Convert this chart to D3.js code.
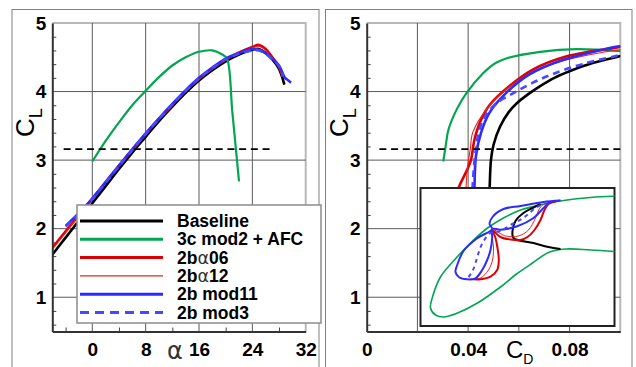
<!DOCTYPE html>
<html>
<head>
<meta charset="utf-8">
<script src="https://cdn.jsdelivr.net/npm/d3@7/dist/d3.min.js"></script>
<style>
  body { margin: 0; background: #fff; }
  svg { display: block; font-family: "Liberation Sans", Arial, sans-serif; }
</style>
</head>
<body>
<div id="chart"></div>
<script>
// ---- data ----
const seriesNames = ["Baseline", "3c mod2 + AFC", "2b\u03b106", "2b\u03b112", "2b mod11", "2b mod3"];

// CL vs alpha
const alphaBase = [-6, -4, -2, 0, 2, 4, 6, 8, 10, 12, 14, 16, 18, 20, 22, 24, 25, 26, 27, 28, 28.8];
const clBase    = [1.62, 1.87, 2.12, 2.37, 2.62, 2.87, 3.11, 3.34, 3.57, 3.78, 3.98, 4.16, 4.31, 4.44, 4.54, 4.61, 4.62, 4.56, 4.47, 4.33, 4.10];
const alphaAfc  = [0, 2, 4, 6, 8, 10, 12, 14, 16, 18, 19.5, 20.2, 21, 22];
const clAfc     = [2.98, 3.28, 3.55, 3.80, 4.01, 4.21, 4.38, 4.50, 4.58, 4.60, 4.54, 4.48, 3.70, 2.69];
const alphaA06  = [-6, -4, -2, 0, 2, 4, 6, 8, 10, 12, 14, 16, 18, 20, 22, 24, 25, 26, 27, 28, 28.5];
const clA06     = [1.72, 1.96, 2.20, 2.44, 2.68, 2.92, 3.15, 3.38, 3.60, 3.81, 4.01, 4.19, 4.34, 4.47, 4.57, 4.65, 4.68, 4.62, 4.50, 4.36, 4.24];
const alphaA12  = [-6, -4, -2, 0, 2, 4, 6, 8, 10, 12, 14, 16, 18, 20, 22, 24, 25, 26, 27, 28, 28.5];
const clA12     = [1.70, 1.94, 2.19, 2.43, 2.67, 2.91, 3.14, 3.37, 3.59, 3.80, 4.00, 4.18, 4.33, 4.46, 4.56, 4.64, 4.66, 4.60, 4.49, 4.35, 4.22];
const alphaM11  = [-4, -2, 0, 2, 4, 6, 8, 10, 12, 14, 16, 18, 20, 22, 24, 25, 26, 27, 28, 28.9, 29.3, 29.8];
const clM11     = [2.04, 2.23, 2.44, 2.68, 2.92, 3.16, 3.39, 3.61, 3.82, 4.02, 4.20, 4.35, 4.48, 4.56, 4.62, 4.61, 4.56, 4.48, 4.38, 4.20, 4.17, 4.13];
const alphaM3   = [-4, -2, 0, 2, 4, 6, 8, 10, 12, 14, 16, 18, 20, 22, 24, 25, 26, 27, 28, 28.6];
const clM3      = [2.03, 2.22, 2.43, 2.67, 2.91, 3.15, 3.38, 3.60, 3.81, 4.01, 4.19, 4.34, 4.47, 4.55, 4.60, 4.60, 4.55, 4.47, 4.37, 4.22];

// CL vs CD
const cdBase  = [0.0482, 0.0485, 0.0490, 0.0500, 0.0526, 0.0560, 0.0592, 0.0640, 0.0684, 0.0740, 0.0802, 0.0894, 0.0992, 0.1005];
const clBaseD = [2.30, 2.62, 3.00, 3.22, 3.49, 3.70, 3.83, 3.97, 4.08, 4.20, 4.30, 4.42, 4.51, 4.52];
const cdAfc   = [0.0302, 0.0312, 0.0322, 0.0355, 0.0394, 0.0460, 0.0510, 0.0556, 0.0684, 0.0828, 0.1005];
const clAfcD  = [2.98, 3.22, 3.44, 3.74, 3.98, 4.27, 4.42, 4.49, 4.58, 4.62, 4.59];
const cdA06   = [0.0345, 0.0365, 0.0395, 0.0411, 0.0425, 0.0450, 0.0484, 0.0563, 0.0655, 0.0786, 0.0983, 0.1005];
const clA06D  = [2.40, 2.62, 2.85, 3.00, 3.30, 3.58, 3.80, 4.08, 4.32, 4.51, 4.64, 4.65];
const cdA12   = [0.0388, 0.0392, 0.0398, 0.0408, 0.0418, 0.0470, 0.0550, 0.0655, 0.0786, 0.0997, 0.1005];
const clA12D  = [2.30, 2.62, 2.91, 3.15, 3.40, 3.73, 4.03, 4.29, 4.46, 4.61, 4.61];
const cdM11   = [0.0423, 0.0425, 0.0431, 0.0451, 0.0484, 0.0550, 0.0642, 0.0773, 0.0997, 0.1005];
const clM11D  = [2.30, 2.62, 3.06, 3.40, 3.69, 3.98, 4.25, 4.46, 4.66, 4.66];
const cdM3    = [0.0415, 0.0420, 0.0430, 0.0445, 0.0470, 0.0515, 0.0580, 0.0650, 0.0730, 0.0850, 0.0996, 0.1005];
const clM3D   = [2.40, 2.76, 3.15, 3.45, 3.66, 3.84, 3.98, 4.12, 4.25, 4.40, 4.53, 4.54];

// horizontal dashed reference
const clRef = 3.16;
const refAlpha = [-4.3, 27];
const refCd = [0.005, 0.1];

// inset (no axes) : u across, v down, box units
const insBaseU = [120, 112, 103, 95, 92, 93, 113, 128, 140];
const insBaseV = [16, 20, 25, 33, 43, 50, 55, 59, 61];
const insAfcU  = [194, 170, 140, 113, 100, 83, 67, 50, 33, 20, 12, 10, 15, 23, 37, 57, 80, 96, 112, 128, 145, 170, 194];
const insAfcV  = [8.3, 9.5, 13, 18.5, 22, 30, 40, 55, 73, 89, 109, 120, 127, 129, 125, 115, 99, 86, 75, 64.5, 61, 62, 63.5];
const insA06U  = [53, 60, 70, 76.7, 78.3, 77, 75, 72, 80, 90, 100, 107, 114, 120, 124, 128, 135];
const insA06V  = [91.3, 91.3, 88.7, 82, 72, 60, 50, 42, 49, 51.5, 52, 49, 42, 32, 22, 16, 13.5];
const insA12U  = [50, 60, 68, 72, 73, 72, 85, 98, 108, 115, 120, 128];
const insA12V  = [91, 90, 82, 72, 60, 42, 48, 48, 42, 30, 19, 14];
const insM11U  = [140, 123, 100, 83, 72, 69, 71.7, 57, 43, 36.7, 35, 38.3, 46.7, 55, 61.7, 66.7, 70, 71.7, 71.7, 80, 96.7, 113, 123, 130, 140];
const insM11V  = [12.5, 14, 18, 21, 29, 36, 41, 50, 63, 77, 84, 89, 91.3, 90.3, 82, 72, 62, 50, 41, 41.7, 38.3, 30, 20, 14, 12.5];
const insM3U   = [48, 51.7, 55, 58, 62, 70, 80, 90, 100, 107, 115, 125];
const insM3V   = [89, 83.7, 75, 65, 55, 45, 43, 37, 31.7, 26.7, 20, 15];

const xTicksAlpha = [0, 8, 16, 24, 32];
const xTicksCd = [0, 0.04, 0.08];
const yTicks = [1, 2, 3, 4, 5];

// ---- styles ----
const styles = [
  { color: "#000000", width: 2.6, dash: null },
  { color: "#00a650", width: 2.2, dash: null },
  { color: "#dd0000", width: 2.6, dash: null },
  { color: "#e8231f", width: 1.1, dash: null },
  { color: "#2b2bff", width: 2.6, dash: null },
  { color: "#4747ff", width: 2.6, dash: "7,5" }
];

const W = 636, H = 367;
const svg = d3.select("#chart").append("svg").attr("width", W).attr("height", H);

const zip = (a, b) => a.map((v, i) => [v, b[i]]);

function drawPanel(p) {
  const x = d3.scaleLinear().domain(p.xDomain).range(p.xRange);
  const y = d3.scaleLinear().domain([0.5, 5]).range([331.5, 23]);
  const g = svg.append("g");

  // outer frame
  g.append("rect").attr("x", p.frame[0]).attr("y", 9.5)
    .attr("width", p.frame[1] - p.frame[0]).attr("height", 380)
    .attr("fill", "none").attr("stroke", "#808080").attr("stroke-width", 1);

  // light border top/right
  g.append("path")
    .attr("d", `M${x(p.xDomain[0])},${y(5)}H${x(p.xDomain[1])}V${y(0.5)}`)
    .attr("fill", "none").attr("stroke", "#b8b8b8").attr("stroke-width", 2);

  // grid
  g.selectAll(".vg").data(p.xGrid).join("line")
    .attr("x1", d => x(d)).attr("x2", d => x(d)).attr("y1", y(5)).attr("y2", y(0.5))
    .attr("stroke", "#5a5a5a").attr("stroke-width", 1);
  g.selectAll(".hg").data([1, 2, 3, 4]).join("line")
    .attr("x1", x(p.xDomain[0])).attr("x2", x(p.xDomain[1])).attr("y1", d => y(d)).attr("y2", d => y(d))
    .attr("stroke", "#5a5a5a").attr("stroke-width", 1);

  // curves
  const clipId = "clip" + p.id;
  svg.append("clipPath").attr("id", clipId).append("rect")
    .attr("x", x(p.xDomain[0])).attr("y", y(5))
    .attr("width", x(p.xDomain[1]) - x(p.xDomain[0])).attr("height", y(0.5) - y(5));
  const line = d3.line().x(d => x(d[0])).y(d => y(d[1])).curve(d3.curveCatmullRom.alpha(0.5));
  const cg = g.append("g").attr("clip-path", `url(#${clipId})`);
  p.series.forEach((s, i) => {
    cg.append("path").attr("d", line(s))
      .attr("fill", "none").attr("stroke", styles[i].color)
      .attr("stroke-width", styles[i].width)
      .attr("stroke-dasharray", styles[i].dash)
      .attr("stroke-linejoin", "round");
  });

  // dashed CL reference
  g.append("line")
    .attr("x1", x(p.ref[0])).attr("x2", x(p.ref[1]))
    .attr("y1", y(clRef)).attr("y2", y(clRef))
    .attr("stroke", "#000").attr("stroke-width", 1.6).attr("stroke-dasharray", "7,4.7");

  // axes
  const yMinor = d3.range(6, 50, 2).map(d => d / 10).filter(d => d % 1 !== 0);
  g.append("g").attr("transform", `translate(${x(p.xDomain[0])},0)`)
    .call(d3.axisLeft(y).tickValues(yMinor).tickSize(-4).tickFormat(""))
    .call(a => a.select(".domain").remove())
    .call(a => a.selectAll("line").attr("stroke", "#444"));
  const yAx = g.append("g").attr("transform", `translate(${x(p.xDomain[0])},0)`)
    .call(d3.axisLeft(y).tickValues(yTicks).tickSize(0).tickSizeOuter(0).tickPadding(6).tickFormat(d3.format("d")));
  yAx.select(".domain").attr("stroke", "#333").attr("stroke-width", 2);
  yAx.selectAll("text").attr("font-size", 19).attr("font-weight", "bold")
    .attr("font-family", "Liberation Sans, Arial, sans-serif").attr("fill", "#000");

  if (p.xMinor.length) {
    g.append("g").attr("transform", `translate(0,${y(0.5)})`)
      .call(d3.axisBottom(x).tickValues(p.xMinor).tickSize(-4).tickFormat(""))
      .call(a => a.select(".domain").remove())
      .call(a => a.selectAll("line").attr("stroke", "#444"));
  }
  const xAx = g.append("g").attr("transform", `translate(0,${y(0.5)})`)
    .call(d3.axisBottom(x).tickValues(p.xTicks).tickSize(0).tickSizeOuter(0).tickPadding(11).tickFormat(p.fmt));
  xAx.select(".domain").attr("stroke", "#333").attr("stroke-width", 2);
  xAx.selectAll("text").attr("font-size", 19).attr("font-weight", "bold")
    .attr("font-family", "Liberation Sans, Arial, sans-serif").attr("fill", "#000");

  // y label C_L
  const yl = g.append("text")
    .attr("transform", `translate(${p.ylabX},137) rotate(-90)`)
    .attr("font-size", 26).attr("fill", "#000");
  yl.append("tspan").text("C");
  yl.append("tspan").attr("font-size", 18).attr("dy", 8).text("L");

  return { x, y, g };
}

// ---- left panel ----
drawPanel({
  id: "L", frame: [12, 319], xDomain: [-6, 32], xRange: [52.3, 305.7],
  xGrid: [0, 8, 16, 24], xMinor: [-4, 4, 12, 20, 28], xTicks: xTicksAlpha,
  fmt: d3.format("d"), ref: refAlpha, ylabX: 34,
  series: [zip(alphaBase, clBase), zip(alphaAfc, clAfc), zip(alphaA06, clA06),
           zip(alphaA12, clA12), zip(alphaM11, clM11), zip(alphaM3, clM3)]
});
svg.append("text").attr("x", 167).attr("y", 359).attr("font-size", 24)
  .attr("font-family", "DejaVu Sans, sans-serif").attr("fill", "#333").text("\u03b1");

// ---- right panel ----
drawPanel({
  id: "R", frame: [325.5, 632], xDomain: [0, 0.1], xRange: [366.7, 620.3],
  xGrid: [0.02, 0.04, 0.06, 0.08], xMinor: [], xTicks: xTicksCd,
  fmt: d => d === 0 ? "0" : d3.format(".2f")(d), ref: refCd, ylabX: 348,
  series: [zip(cdBase, clBaseD), zip(cdAfc, clAfcD), zip(cdA06, clA06D),
           zip(cdA12, clA12D), zip(cdM11, clM11D), zip(cdM3, clM3D)]
});
const xl = svg.append("text").attr("x", 506).attr("y", 358).attr("font-size", 24).attr("fill", "#000");
xl.append("tspan").text("C");
xl.append("tspan").attr("font-size", 14).attr("dy", 6).text("D");

// ---- inset ----
const iu = d3.scaleLinear().domain([0, 194]).range([420.5, 614.5]);
const iv = d3.scaleLinear().domain([0, 138]).range([188, 326]);
svg.append("rect").attr("x", 420.5).attr("y", 188).attr("width", 194).attr("height", 138)
  .attr("fill", "#fff").attr("stroke", "#222").attr("stroke-width", 2);
const insetLine = d3.line().x(d => iu(d[0])).y(d => iv(d[1])).curve(d3.curveCatmullRom.alpha(0.5));
const insetData = [zip(insBaseU, insBaseV), zip(insAfcU, insAfcV), zip(insA06U, insA06V),
                   zip(insA12U, insA12V), zip(insM11U, insM11V), zip(insM3U, insM3V)];
const insetOrder = [1, 0, 3, 2, 4, 5];
insetOrder.forEach(i => {
  svg.append("path").attr("d", insetLine(insetData[i]))
    .attr("fill", "none").attr("stroke", styles[i].color)
    .attr("stroke-width", i === 3 ? 1 : (i === 1 ? 1.6 : 2))
    .attr("stroke-dasharray", i === 5 ? "4,4" : null);
});

// ---- legend ----
const lg = svg.append("g");
lg.append("rect").attr("x", 77).attr("y", 205).attr("width", 244).attr("height", 118)
  .attr("fill", "#fff").attr("stroke", "#8c8c8c").attr("stroke-width", 1.5);
const rowY = d3.scalePoint().domain(d3.range(seriesNames.length)).range([221, 312.5]);
seriesNames.forEach((name, i) => {
  const yy = rowY(i);
  lg.append("line").attr("x1", 80).attr("x2", 163).attr("y1", yy).attr("y2", yy)
    .attr("stroke", styles[i].color)
    .attr("stroke-width", i === 3 ? 1.2 : 3)
    .attr("stroke-dasharray", i === 5 ? "9,6" : null);
  const t = lg.append("text").attr("x", 177).attr("y", yy + 6)
    .attr("font-size", 17.5).attr("font-weight", "bold").attr("fill", "#000");
  name.split("\u03b1").forEach((part, k) => {
    if (k > 0) t.append("tspan").attr("font-weight", "normal")
      .attr("font-family", "DejaVu Sans, sans-serif").attr("fill", "#333").text("\u03b1");
    t.append("tspan").text(part);
  });
});
</script>
</body>
</html>
